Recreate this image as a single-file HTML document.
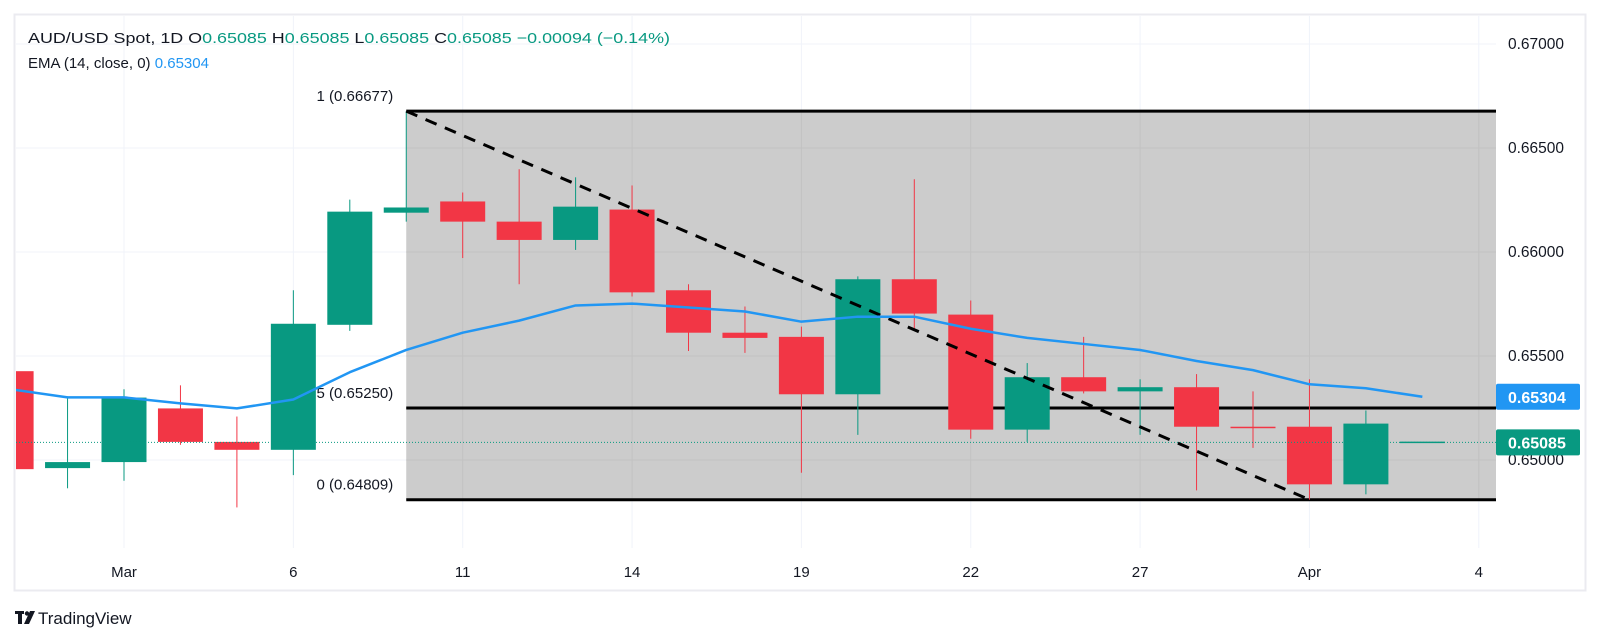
<!DOCTYPE html>
<html><head><meta charset="utf-8"><style>
html,body{margin:0;padding:0;background:#fff;}
svg{display:block;font-family:"Liberation Sans",sans-serif;}
</style></head><body>
<svg id="chart" width="1601" height="644" viewBox="0 0 1601 644" xmlns="http://www.w3.org/2000/svg">
<defs><clipPath id="plotclip"><rect x="16" y="16" width="1480" height="532"/></clipPath></defs>
<rect x="14.5" y="14.5" width="1571" height="576" fill="#fff" stroke="#ebebf0" stroke-width="2"/>
<g id="grid"></g>
<g id="fib" clip-path="url(#plotclip)"></g>
<g id="candles" clip-path="url(#plotclip)"></g>
<g id="overlay" clip-path="url(#plotclip)"></g>
<g id="yaxis"></g>
<g id="xaxis"></g>
<text x="28" y="43" font-size="15" fill="#131722" textLength="642" lengthAdjust="spacingAndGlyphs">AUD/USD Spot, 1D  O<tspan fill="#089981">0.65085</tspan>  H<tspan fill="#089981">0.65085</tspan>  L<tspan fill="#089981">0.65085</tspan>  C<tspan fill="#089981">0.65085  −0.00094 (−0.14%)</tspan></text>
<text x="28" y="68" font-size="15" fill="#131722">EMA (14, close, 0)  <tspan fill="#2196f3">0.65304</tspan></text>
<g>
<rect x="15" y="611" width="9" height="3" fill="#131722"/><rect x="18" y="611" width="4" height="13" fill="#131722"/>
<circle cx="27" cy="613.5" r="2.2" fill="#131722"/><polygon points="30,611 35,611 29,624 24,624" fill="#131722"/>
<text x="38" y="624" font-size="17" fill="#131722">TradingView</text>
</g>
</svg>
<script>
const dates = ["","","Mar","","","6","","","11","","","14","","","19","","","22","","","27","","","Apr","","","4"];
const opens  = [0.65427,0.64961,0.6499,0.65248,0.65087,0.65049,0.6565,0.66189,0.66243,0.66146,0.66058,0.66204,0.65816,0.65612,0.65592,0.65316,0.65869,0.65699,0.65146,0.65398,0.6533,0.6535,0.6516,0.6516,0.64883,0.65085];
const highs  = [0.65427,0.65306,0.6534,0.65359,0.65209,0.65816,0.66252,0.66677,0.66286,0.66398,0.66359,0.6632,0.65845,0.65738,0.65641,0.65883,0.6635,0.65767,0.65466,0.65592,0.65388,0.65413,0.6533,0.65388,0.65238,0.65085];
const lows   = [0.64956,0.64864,0.649,0.65073,0.64772,0.64927,0.65621,0.66146,0.65971,0.65845,0.6601,0.65786,0.65524,0.65515,0.64939,0.65121,0.65621,0.65102,0.65087,0.6532,0.65121,0.64854,0.65058,0.64809,0.64835,0.65085];
const closes = [0.64956,0.6499,0.653,0.65087,0.65049,0.65655,0.66194,0.66214,0.66146,0.66058,0.66218,0.65806,0.65612,0.65587,0.65316,0.65869,0.65704,0.65146,0.65398,0.6533,0.6535,0.6516,0.65155,0.64883,0.65175,0.65085];
const ema = [0.6534,0.65301,0.65301,0.65272,0.65248,0.65291,0.65422,0.65529,0.65612,0.6567,0.65743,0.65752,0.65733,0.65714,0.65665,0.65689,0.65689,0.65631,0.65587,0.65558,0.65529,0.65476,0.65432,0.65364,0.65345,0.65304];
const priceTicks = [0.67,0.665,0.66,0.655,0.65];
const fibLabels = ["1","0.5","0"];
const fibPrices = [0.66677,0.6525,0.64809];
const fibStartIdx = 7, fibEndIdx = 23;
const lastPrice = 0.65085, lastEma = 0.65304;

const NS="http://www.w3.org/2000/svg";
const xOf = i => 11.1 + i*56.45;
const yOf = p => 44 + (0.67 - p)*20800;
function mk(tag, attrs, parent, txt){const e=document.createElementNS(NS,tag);for(const k in attrs)e.setAttribute(k,attrs[k]);if(txt!==undefined)e.textContent=txt;document.getElementById(parent).appendChild(e);return e;}
const G="#089981", R="#f23645";
const PR=1496;
const fibHigh=Math.max(...fibPrices), fibLow=Math.min(...fibPrices);

// grid
priceTicks.forEach(p=>{const e=mk('line',{x1:16,x2:PR,y1:yOf(p),y2:yOf(p),stroke:'#f0f3fa','stroke-width':1},'grid');

});
dates.forEach((d,i)=>{if(!d)return;const e=mk('line',{x1:xOf(i),x2:xOf(i),y1:16,y2:548,stroke:'#f0f3fa','stroke-width':1},'grid');


const t=mk('text',{x:xOf(i),y:577,'font-size':15,fill:'#131722','text-anchor':'middle'},'xaxis',d);

});

// price axis
priceTicks.forEach(p=>{const t=mk('text',{x:1508,y:yOf(p)+5,'font-size':15.5,fill:'#131722'},'yaxis',p.toFixed(5));

});

// fib
const fx1=xOf(fibStartIdx);
const fr=mk('rect',{x:fx1,y:yOf(fibHigh),width:PR-fx1,height:yOf(fibLow)-yOf(fibHigh),fill:'#cccccc'},'fib');


priceTicks.forEach(p=>{if(p>fibHigh||p<fibLow)return;const e=mk('line',{x1:fx1,x2:PR,y1:yOf(p),y2:yOf(p),stroke:'#c2c2c2','stroke-width':1},'fib');

});
dates.forEach((d,i)=>{if(!d||xOf(i)<fx1)return;const e=mk('line',{x1:xOf(i),x2:xOf(i),y1:yOf(fibHigh),y2:yOf(fibLow),stroke:'#c2c2c2','stroke-width':1},'fib');

});
fibPrices.forEach((p,k)=>{const y=yOf(p);
const e=mk('line',{x1:fx1,x2:PR,y1:y,y2:y,stroke:'#000','stroke-width':3},'fib');


const t=mk('text',{x:fx1-13,y:y-10,'font-size':15,fill:'#131722','text-anchor':'end'},'fib',fibLabels[k]+' ('+p.toFixed(5)+')');

});

// candles
const BW=45;
opens.forEach((o,i)=>{const c=closes[i];const x=xOf(i);const col=c>=o?G:R;
const w=mk('line',{x1:x,x2:x,y1:yOf(highs[i]),y2:yOf(lows[i]),stroke:col,'stroke-width':1},'candles');


if(i===opens.length-1){const b=mk('line',{x1:x-BW/2,x2:x+BW/2,y1:yOf(c),y2:yOf(c),stroke:G,'stroke-width':1.5},'candles');

return;}
const top=yOf(Math.max(o,c)),h=Math.max(1.5,Math.abs(yOf(o)-yOf(c)));
const b=mk('rect',{x:x-BW/2,y:top,width:BW,height:h,fill:col},'candles');

});

// dashed trend line
const dl=mk('line',{x1:xOf(fibStartIdx),y1:yOf(fibHigh),x2:xOf(fibEndIdx),y2:yOf(fibLow),stroke:'#000','stroke-width':3,'stroke-dasharray':'12 9'},'overlay');



// ema
const pe=mk('polyline',{points:ema.map((v,i)=>xOf(i)+','+yOf(v)).join(' '),fill:'none',stroke:'#2196f3','stroke-width':2.5,'stroke-linejoin':'round'},'overlay');



// last price line
const lp=mk('line',{x1:16,x2:PR,y1:yOf(lastPrice),y2:yOf(lastPrice),stroke:G,'stroke-width':1,'stroke-dasharray':'1 2'},'overlay');



// price tags
[[lastEma,'#2196f3','ema-price-tag'],[lastPrice,G,'last-price-tag']].forEach(([p,col,n])=>{
const y=yOf(p);
const r=mk('rect',{x:PR,y:y-13,width:84,height:26,rx:2,fill:col},'yaxis');


const t=mk('text',{x:1508,y:y+6,'font-size':16,'font-weight':'bold',fill:'#fff'},'yaxis',p.toFixed(5));

});
</script>
</body></html>
